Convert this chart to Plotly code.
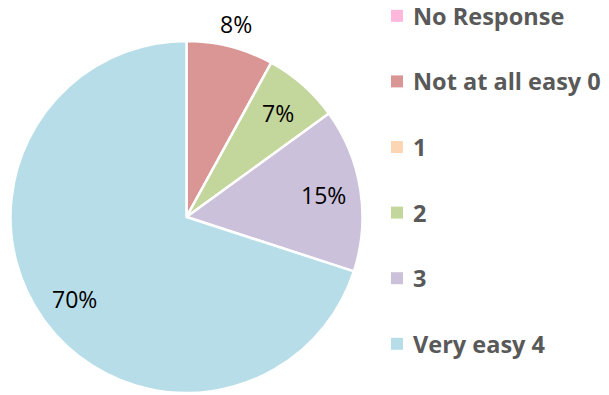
import math
import plotly.graph_objects as go

# Survey responses: how easy was it?
categories = ["No Response", "Not at all easy 0", "1", "2", "3", "Very easy 4"]
shares = [0, 8, 0, 7, 15, 70]
colors = ["#FFB7DB", "#D99694", "#FCD5B5", "#C3D69B", "#CCC1DA", "#B7DEE8"]
label_outside = [False, True, False, False, False, False]

W, H = 609, 395
cx, cy, R = 186.5, 217, 176  # pie centre and radius in pixels

fig = go.Figure(go.Pie(
    labels=categories,
    values=shares,
    sort=False,
    direction="clockwise",
    rotation=0,
    marker=dict(colors=colors, line=dict(color="white", width=2.5)),
    textinfo="none",
    showlegend=False,
    hoverinfo="label+percent",
    domain=dict(x=[(cx - R) / W, (cx + R) / W],
                y=[(H - cy - R) / H, (H - cy + R) / H]),
))

# Percentage labels at each slice's mid-angle (clockwise from 12 o'clock)
total = sum(shares)
start = 0.0
for val, outside in zip(shares, label_outside):
    if val > 0:
        mid = 2 * math.pi * (start + val / 2) / total
        r = R * (1.13 if outside else 0.79)
        px = cx + r * math.sin(mid)
        py = cy - r * math.cos(mid)
        fig.add_annotation(xref="paper", yref="paper", x=px / W, y=(H - py) / H,
                           text=f"{round(100 * val / total)}%", showarrow=False,
                           xanchor="center", yanchor="middle",
                           font=dict(family="Open Sans", size=23, color="black"))
    start += val

# Legend drawn as squares + labels, evenly spaced down the right side
leg_x, leg_y0, leg_dy, sq = 391, 15.8, 65.6, 12
for i, (name, col) in enumerate(zip(categories, colors)):
    y = leg_y0 + i * leg_dy
    fig.add_shape(type="rect", xref="paper", yref="paper",
                  x0=leg_x / W, x1=(leg_x + sq) / W,
                  y0=(H - y - sq / 2) / H, y1=(H - y + sq / 2) / H,
                  fillcolor=col, line=dict(width=0))
    fig.add_annotation(xref="paper", yref="paper", x=(leg_x + 20) / W, y=(H - y) / H,
                       text=f"<b>{name}</b>", showarrow=False,
                       xanchor="left", yanchor="middle",
                       font=dict(family="Open Sans", size=23.5, color="#595959"))

fig.update_layout(width=W, height=H, margin=dict(l=0, r=0, t=0, b=0),
                  paper_bgcolor="white", plot_bgcolor="white")
fig.write_html("out.html")
